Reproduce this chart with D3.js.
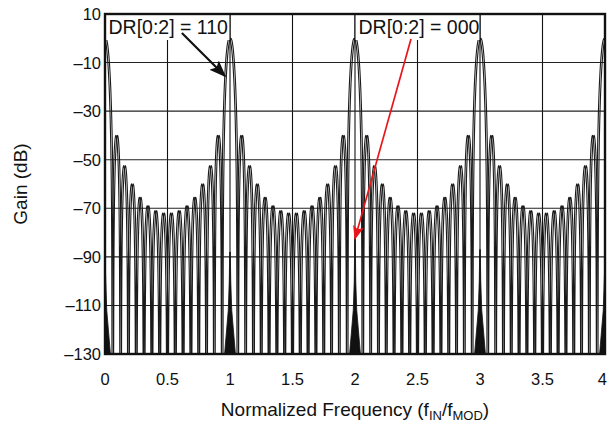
<!DOCTYPE html>
<html><head><meta charset="utf-8">
<script src="https://cdn.jsdelivr.net/npm/d3@7/dist/d3.min.js"></script>
<style>
body{margin:0;background:#fff;}
text{font-family:"Liberation Sans",Arial,Helvetica,sans-serif;fill:#111;}
</style></head>
<body><svg id="c" width="608" height="426"></svg>
<script>
// ---- data ----
const xTicks = [0, 0.5, 1, 1.5, 2, 2.5, 3, 3.5, 4];
const xTickLabels = ["0", "0.5", "1", "1.5", "2", "2.5", "3", "3.5", "4"];
const yTicks = [10, -10, -30, -50, -70, -90, -110, -130];
const lobesPerUnit = 16;                 // nulls every 1/16
const mainLobePeak = 0;                  // dB at f = 0,1,2,3,4
// side-lobe peaks (dB), from the main lobe outwards to the mid point (symmetric)
const sideLobePeaks = [-40, -52.5, -60, -65.5, -69, -71, -72];
// DR[0:2] = 000 spikes at the integer frequencies
const spikeFreq = [0, 1, 2, 3, 4];
const spikeTop = [-93, -88, -82, -87, -94];
const annotations = [
  {label: "DR[0:2] = 110", boxF: [0, 1], arrowFrom: [0.615, 2.2], arrowTo: [0.96, -15.5], color: "#111"},
  {label: "DR[0:2] = 000", boxF: [2, 3], arrowFrom: [2.448, -0.3], arrowTo: [2.0, -82.5], color: "#e8161b"}
];

const W = 608, H = 426;
const m = {l: 105, r: 3, t: 14, b: 72};
const svg = d3.select("#c");
const x = d3.scaleLinear().domain([0, 4]).range([m.l, W - m.r]);
const y = d3.scaleLinear().domain([10, -130]).range([m.t, H - m.b]);
const yMin = -130;
const defs = svg.append("defs");
defs.append("clipPath").attr("id", "plot")
  .append("rect").attr("x", x(0)).attr("y", y(10)).attr("width", x(4) - x(0)).attr("height", y(-130) - y(10));

const gridG = svg.append("g");
const plotG = svg.append("g").attr("clip-path", "url(#plot)");
const boxG = svg.append("g");
const frameG = svg.append("g");
const arrowG = svg.append("g");
const textG = svg.append("g");

// grid
gridG.selectAll("line.v").data(xTicks).join("line").attr("class", "v")
  .attr("x1", d => x(d)).attr("x2", d => x(d)).attr("y1", y(10)).attr("y2", y(-130))
  .attr("stroke", "#111").attr("stroke-width", 1.1);
gridG.selectAll("line.h").data(yTicks).join("line").attr("class", "h")
  .attr("x1", x(0)).attr("x2", x(4)).attr("y1", d => y(d)).attr("y2", d => y(d))
  .attr("stroke", "#222").attr("stroke-width", 1.1);

// build the 110 curve lobe by lobe (lobe shape between nulls, peak from data)
const slot = 1 / lobesPerUnit;
const lobes = [];
for (let k = 0; k <= 4; k++) {
  lobes.push({a: k - slot, b: k + slot, peak: mainLobePeak, main: true, c: k});
  sideLobePeaks.forEach((p, i) => {
    lobes.push({a: k + slot * (i + 1), b: k + slot * (i + 2), peak: p});
    lobes.push({a: k - slot * (i + 2), b: k - slot * (i + 1), peak: p});
  });
}
lobes.sort((u, v) => u.a - v.a);
const pts = [];
const nStep = 60;
lobes.forEach(L => {
  for (let j = 0; j <= nStep; j++) {
    const t = j / nStep;
    const f = L.a + (L.b - L.a) * t;
    let s;
    if (L.main) {
      const u = (f - L.c) * lobesPerUnit;
      s = Math.abs(u) < 1e-9 ? 1 : Math.sin(Math.PI * u) / (Math.PI * u);
    } else s = Math.sin(Math.PI * t);
    let v = L.peak + 60 * Math.log10(Math.max(Math.abs(s), 1e-9));
    if (v < yMin - 5) v = yMin - 5;
    pts.push([f, v]);
  }
});
const line = d3.line().x(d => x(d[0])).y(d => y(d[1]));
[-0.8, 0.8].forEach(dx => {
  plotG.append("path").attr("d", line(pts)).attr("fill", "none")
    .attr("transform", `translate(${dx},0)`)
    .attr("stroke", "#1a1a1a").attr("stroke-width", 1.1);
});

// 000 spikes
const spikeShape = top => [[-0.002, top], [-0.006, -100], [-0.014, -112], [-0.045, -131], [0.045, -131], [0.014, -112], [0.006, -100], [0.002, top]];
plotG.selectAll("path.sp").data(spikeFreq).join("path").attr("class", "sp")
  .attr("d", (f, i) => d3.line().x(d => x(f + d[0])).y(d => y(d[1]))(spikeShape(spikeTop[i])) + "Z")
  .attr("fill", "#111").attr("stroke", "#111").attr("stroke-width", 0.8);

// annotation boxes (white, edges on the grid lines)
annotations.forEach(a => {
  boxG.append("rect").attr("x", x(a.boxF[0])).attr("y", y(10))
    .attr("width", x(a.boxF[1]) - x(a.boxF[0])).attr("height", 26).attr("fill", "#fff");
  boxG.append("line").attr("x1", x(a.boxF[1])).attr("x2", x(a.boxF[1])).attr("y1", y(10)).attr("y2", y(10) + 26)
    .attr("stroke", "#111").attr("stroke-width", 1.1);
  if (a.boxF[0] > 0) boxG.append("line").attr("x1", x(a.boxF[0])).attr("x2", x(a.boxF[0])).attr("y1", y(10)).attr("y2", y(10) + 26)
    .attr("stroke", "#111").attr("stroke-width", 1.1);
  textG.append("text").attr("x", x(a.boxF[0]) + 3.5).attr("y", y(10) + 20)
    .attr("font-size", 19.5).text(a.label);
});

// frame
frameG.append("rect").attr("x", x(0)).attr("y", y(10)).attr("width", x(4) - x(0)).attr("height", y(-130) - y(10))
  .attr("fill", "none").attr("stroke", "#111").attr("stroke-width", 2.4);

// arrows
annotations.forEach((a, i) => {
  defs.append("marker").attr("id", "ah" + i).attr("viewBox", "0 0 10 10").attr("refX", 9).attr("refY", 5)
    .attr("markerWidth", i ? 14 : 17).attr("markerHeight", i ? 11 : 13).attr("markerUnits", "userSpaceOnUse")
    .attr("orient", "auto").attr("preserveAspectRatio", "none")
    .append("path").attr("d", "M0,0 L10,5 L0,10 L2,5 Z").attr("fill", a.color);
  arrowG.append("line").attr("x1", x(a.arrowFrom[0])).attr("y1", y(a.arrowFrom[1]))
    .attr("x2", x(a.arrowTo[0])).attr("y2", y(a.arrowTo[1]))
    .attr("stroke", a.color).attr("stroke-width", i ? 1.7 : 2.2).attr("marker-end", `url(#ah${i})`);
});

// axes labels
textG.selectAll("text.xt").data(xTicks).join("text").attr("class", "xt")
  .attr("x", d => d === 4 ? W - 1 : x(d)).attr("y", y(-130) + 31)
  .attr("text-anchor", d => d === 4 ? "end" : "middle").attr("font-size", 16.5)
  .text((d, i) => xTickLabels[i]);
textG.selectAll("text.yt").data(yTicks).join("text").attr("class", "yt")
  .attr("x", x(0) - 4).attr("y", d => y(d) + 6).attr("text-anchor", "end").attr("font-size", 16.5)
  .text(d => d < 0 ? "\u2013" + Math.abs(d) : d);
textG.append("text").attr("transform", `translate(27,${(y(10) + y(-130)) / 2}) rotate(-90)`)
  .attr("text-anchor", "middle").attr("font-size", 19).text("Gain (dB)");
const xt = textG.append("text").attr("x", 355).attr("y", 416).attr("text-anchor", "middle").attr("font-size", 19);
xt.append("tspan").text("Normalized Frequency (f");
xt.append("tspan").attr("font-size", 13).attr("dy", 4).text("IN");
xt.append("tspan").attr("dy", -4).text("/f");
xt.append("tspan").attr("font-size", 13).attr("dy", 4).text("MOD");
xt.append("tspan").attr("dy", -4).text(")");
</script></body></html>
